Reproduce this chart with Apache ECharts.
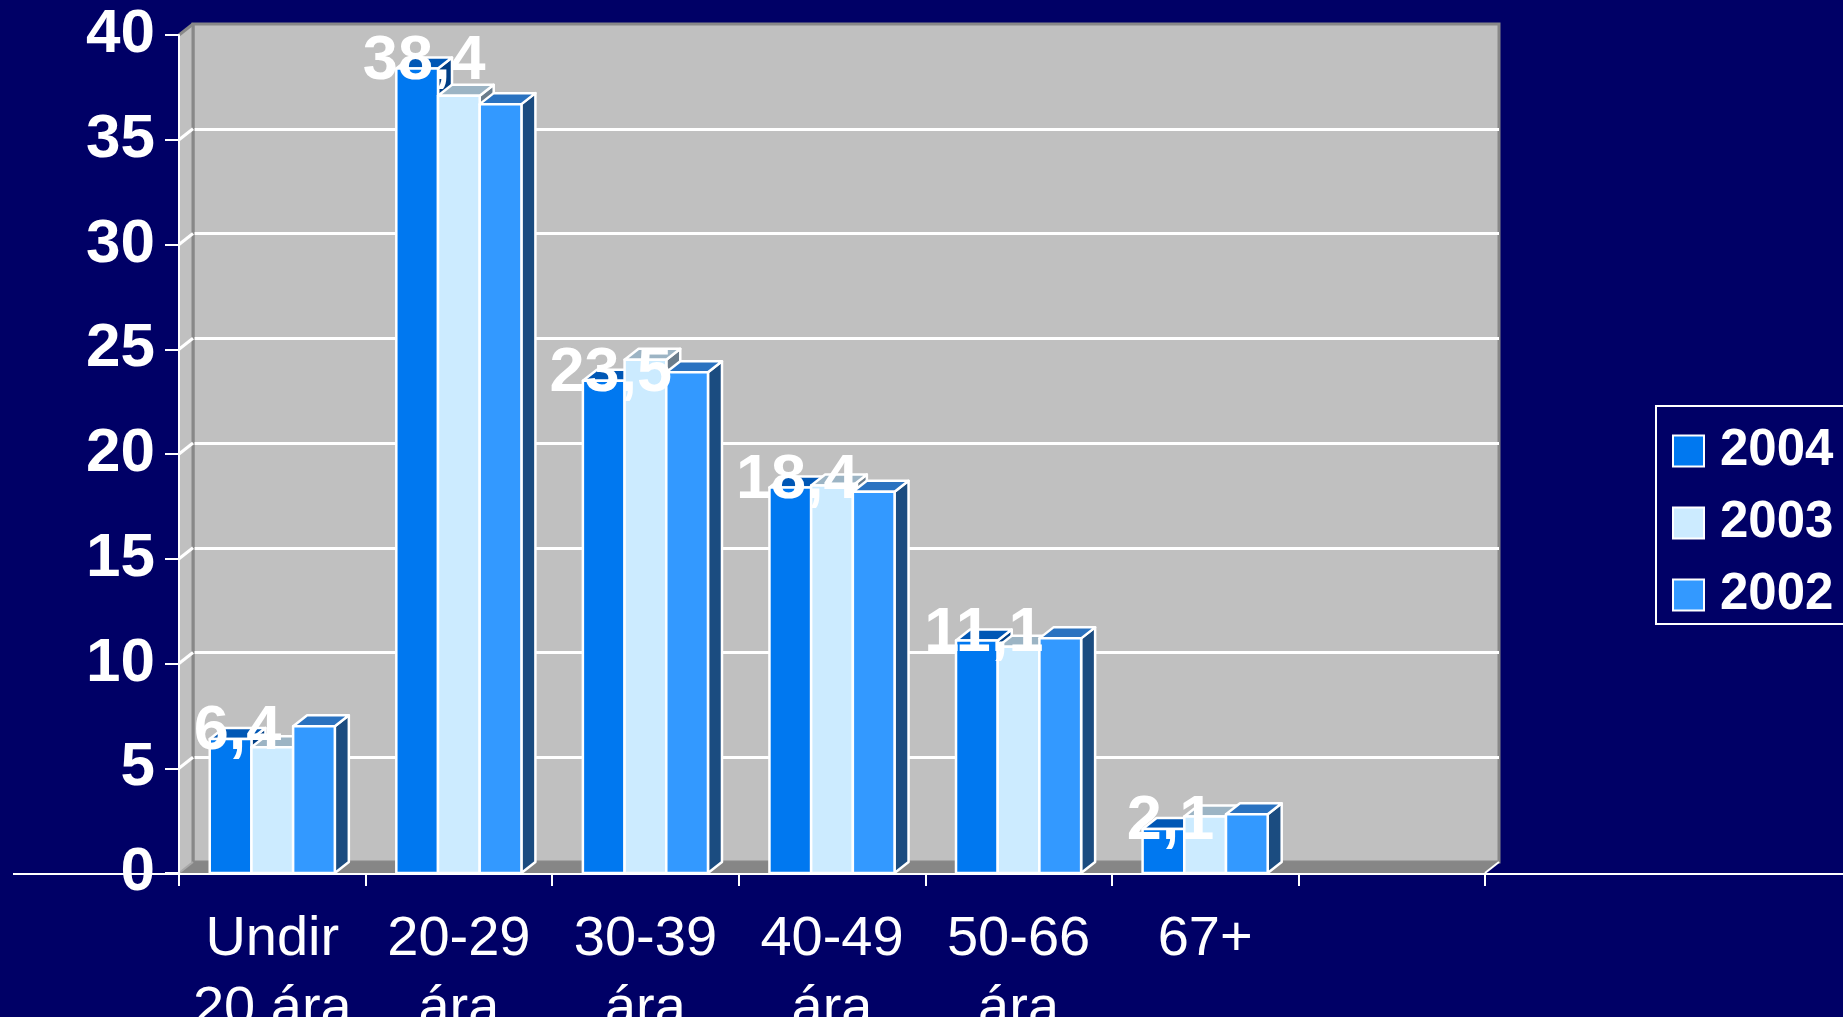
<!DOCTYPE html>
<html>
<head>
<meta charset="utf-8">
<script src="https://cdn.jsdelivr.net/npm/echarts@6/dist/echarts.min.js"></script>
<style>
html,body{margin:0;padding:0;background:#000066;}
#c{width:1843px;height:1017px;}
</style>
</head>
<body>
<div id="c"></div>
<script>
// ---- data ----
var categories = ['Undir\n20 ára', '20-29\nára', '30-39\nára', '40-49\nára', '50-66\nára', '67+', ''];
var seriesNames = ['2004', '2003', '2002'];
var values2004 = [6.4, 38.4, 23.5, 18.4, 11.1, 2.1];
var values2003 = [6.0, 37.1, 24.5, 18.5, 10.8, 2.7];
var values2002 = [7.0, 36.7, 23.9, 18.2, 11.2, 2.8];
var yTicks = [0, 5, 10, 15, 20, 25, 30, 35, 40];

// ---- styling ----
var FONT = '"Liberation Sans", Arial, Helvetica, sans-serif';
var DX = 14, DY = 11;          // depth of the 3D effect
var BAR_FRAC = 0.2235;         // bar width as share of category band
var FRONT = {left: 179, top: 35, width: 1306, height: 838};
var faceColors = [
  {front: '#0078F0', top: '#0057B5', side: '#003E85'},
  {front: '#CCEBFF', top: '#9CB4C4', side: '#6B7D8C'},
  {front: '#3399FF', top: '#2A72C0', side: '#1B4C80'}
];
var valueSets = [values2004, values2003, values2002];

function toData(arr) {
  return arr.map(function (v, i) { return [i, v]; });
}

function makeBarRender(k) {
  var col = faceColors[k];
  return function (params, api) {
    var ci = api.value(0), v = api.value(1);
    var c = api.coord([ci, v]);
    var base = api.coord([ci, 0]);
    var band = api.size([1, 0])[0];
    var w = band * BAR_FRAC;
    var x = c[0] + (k - 1.5) * w;
    var top = c[1], bot = base[1];
    var st = {stroke: '#ffffff', lineWidth: 2.5, lineJoin: 'round'};
    return {
      type: 'group',
      children: [
        {type: 'polygon', shape: {points: [[x + w, top], [x + w + DX, top - DY], [x + w + DX, bot - DY], [x + w, bot]]},
          style: Object.assign({fill: col.side}, st)},
        {type: 'polygon', shape: {points: [[x, top], [x + w, top], [x + w + DX, top - DY], [x + DX, top - DY]]},
          style: Object.assign({fill: col.top}, st)},
        {type: 'rect', shape: {x: x, y: top, width: w, height: bot - top},
          style: Object.assign({fill: col.front}, st)}
      ]
    };
  };
}

function renderLabel(params, api) {
  var ci = api.value(0), v = api.value(1);
  var c = api.coord([ci, v]);
  var band = api.size([1, 0])[0];
  var w = band * BAR_FRAC;
  var cx = c[0] - w + DX / 2;
  return {
    type: 'text',
    x: cx, y: c[1] - 7,
    style: {
      text: String(v.toFixed(1)).replace('.', ','),
      fill: '#ffffff', fontSize: 63, fontWeight: 'bold', fontFamily: FONT,
      align: 'center', verticalAlign: 'middle'
    }
  };
}

function renderFrame(params, api) {
  var band = api.size([1, 0])[0];
  var x0 = api.coord([0, 0])[0] - band / 2;
  var x1 = api.coord([categories.length - 1, 0])[0] + band / 2;
  var y0 = api.coord([0, 0])[1];
  var yT = api.coord([0, yTicks[yTicks.length - 1]])[1];
  var children = [
    {type: 'polygon', shape: {points: [[x0, y0], [x0 + DX, y0 - DY], [x1 + DX, y0 - DY], [x1, y0]]},
      style: {fill: '#868686'}},
    {type: 'polygon', shape: {points: [[x0, yT], [x0 + DX, yT - DY], [x0 + DX, y0 - DY], [x0, y0]]},
      style: {fill: '#C0C0C0'}},
    {type: 'line', shape: {x1: x0, y1: yT, x2: x0 + DX, y2: yT - DY}, style: {stroke: '#888888', lineWidth: 3}},
    {type: 'line', shape: {x1: x0 + DX, y1: yT - DY, x2: x0 + DX, y2: y0 - DY}, style: {stroke: '#888888', lineWidth: 3}},
    {type: 'line', shape: {x1: x0, y1: y0, x2: x0 + DX, y2: y0 - DY}, style: {stroke: '#A8A8A8', lineWidth: 2}},
    {type: 'line', shape: {x1: x1, y1: y0, x2: x1 + DX, y2: y0 - DY}, style: {stroke: '#ffffff', lineWidth: 2}},
    {type: 'line', shape: {x1: 13, y1: y0 + 1, x2: api.getWidth(), y2: y0 + 1}, style: {stroke: '#ffffff', lineWidth: 2}}
  ];
  yTicks.forEach(function (t) {
    if (t === 0 || t === yTicks[yTicks.length - 1]) return;
    var y = api.coord([0, t])[1];
    children.push({type: 'line', shape: {x1: x0, y1: y, x2: x0 + DX, y2: y - DY},
      style: {stroke: '#ffffff', lineWidth: 3}});
  });
  return {type: 'group', children: children};
}

var chart = echarts.init(document.getElementById('c'), null, {renderer: 'canvas'});

var series = [
  {type: 'custom', name: 'frame', xAxisIndex: 1, yAxisIndex: 1, z: 1,
    data: [[0, 0]], renderItem: renderFrame, silent: true}
];
seriesNames.forEach(function (n, k) {
  series.push({
    type: 'custom', name: n, xAxisIndex: 1, yAxisIndex: 1, z: 2,
    itemStyle: {color: faceColors[k].front},
    data: toData(valueSets[k]),
    encode: {x: 0, y: 1},
    renderItem: makeBarRender(k)
  });
});
series.push({
  type: 'custom', name: 'labels', xAxisIndex: 1, yAxisIndex: 1, z: 6,
  data: toData(values2004), encode: {x: 0, y: 1}, renderItem: renderLabel, silent: true
});

var yMax = yTicks[yTicks.length - 1];

chart.setOption({
  backgroundColor: '#000066',
  animation: false,
  grid: [
    {left: FRONT.left + DX, top: FRONT.top - DY, width: FRONT.width, height: FRONT.height,
      outerBoundsMode: 'none', containLabel: false,
      show: true, backgroundColor: '#C0C0C0', borderColor: '#888888', borderWidth: 3, z: 0},
    {left: FRONT.left, top: FRONT.top, width: FRONT.width, height: FRONT.height,
      outerBoundsMode: 'none', containLabel: false, show: false}
  ],
  xAxis: [
    {type: 'category', gridIndex: 0, data: categories, show: false},
    {type: 'category', gridIndex: 1, data: categories, z: 8,
      axisLine: {show: false},
      axisTick: {show: true, length: 13, lineStyle: {color: '#ffffff', width: 2}},
      axisLabel: {color: '#ffffff', fontSize: 56, fontFamily: FONT, lineHeight: 70, margin: 32, interval: 0},
      splitLine: {show: false}}
  ],
  yAxis: [
    {type: 'value', gridIndex: 0, min: 0, max: yMax, interval: 5,
      axisLine: {show: false}, axisTick: {show: false}, axisLabel: {show: false},
      splitLine: {show: true, showMinLine: false, showMaxLine: false, lineStyle: {color: '#ffffff', width: 3}}},
    {type: 'value', gridIndex: 1, min: 0, max: yMax, interval: 5, z: 8,
      axisLine: {show: true, lineStyle: {color: '#ffffff', width: 2}},
      axisTick: {show: true, length: 14, lineStyle: {color: '#ffffff', width: 2}},
      axisLabel: {color: '#ffffff', fontSize: 62, fontWeight: 'bold', fontFamily: FONT, margin: 24},
      splitLine: {show: false}}
  ],
  legend: {
    data: seriesNames,
    orient: 'vertical',
    left: 1656, top: 406,
    padding: [19, 30, 3, 16],
    itemGap: 20,
    itemWidth: 31, itemHeight: 31,
    icon: 'rect',
    borderColor: '#ffffff', borderWidth: 2,
    itemStyle: {borderColor: '#ffffff', borderWidth: 2},
    textStyle: {color: '#ffffff', fontSize: 51, fontWeight: 'bold', fontFamily: FONT, lineHeight: 52, padding: [0, 0, 0, 11]},
    selectedMode: false
  },
  series: series
});
</script>
</body>
</html>
